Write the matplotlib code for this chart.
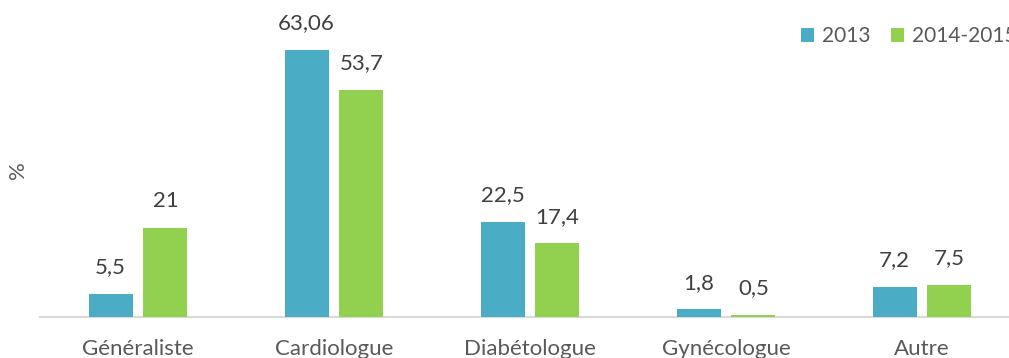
import matplotlib.pyplot as plt
import numpy as np

categories = ['Généraliste', 'Cardiologue', 'Diabétologue', 'Gynécologue', 'Autre']
vals_2013 = [5.5, 63.06, 22.5, 1.8, 7.2]
vals_2014_2015 = [21, 53.7, 17.4, 0.5, 7.5]
labels_2013 = ['5,5', '63,06', '22,5', '1,8', '7,2']
labels_2014_2015 = ['21', '53,7', '17,4', '0,5', '7,5']

plt.rcParams['font.family'] = ['Lato', 'DejaVu Sans']

fig = plt.figure(figsize=(10.09, 3.58), dpi=100)
# axes run slightly past the right edge, like the original export
ax = fig.add_axes([40 / 1009, 41 / 358, 980 / 1009, 317 / 358])

x = np.arange(len(categories))
w = 0.2245
off = 0.14
b1 = ax.bar(x - off, vals_2013, w, color='#4BACC6', label='2013', zorder=3)
b2 = ax.bar(x + off, vals_2014_2015, w, color='#92D050', label='2014-2015', zorder=3)

for bars, labels in [(b1, labels_2013), (b2, labels_2014_2015)]:
    for bar, lab in zip(bars, labels):
        ax.annotate(lab, (bar.get_x() + bar.get_width() / 2, bar.get_height()),
                    xytext=(0, 12), textcoords='offset points',
                    ha='center', va='bottom', fontsize=16, color='#404040')

ax.set_xlim(-0.5, 4.5)
ax.set_ylim(0, 74.87)
ax.set_xticks(x)
ax.set_xticklabels(categories, fontsize=16, color='#595959')
ax.tick_params(axis='x', length=0, pad=16)
ax.set_yticks([])
for side in ['top', 'right', 'left']:
    ax.spines[side].set_visible(False)
ax.spines['bottom'].set_color('#D9D9D9')
ax.spines['bottom'].set_linewidth(1.5)

fig.text(18 / 1009, 1 - 170 / 358, '%', rotation=90, ha='center', va='center',
         fontsize=16, color='#595959')

ax.legend(loc='center left', bbox_to_anchor=(782 / 1009, 1 - 36 / 358),
          bbox_transform=fig.transFigure, ncol=2, frameon=False,
          handlelength=0.65, handleheight=0.65, handletextpad=0.35,
          columnspacing=1.0, fontsize=15, labelcolor='#595959')

fig.savefig('out.png', dpi=100)
